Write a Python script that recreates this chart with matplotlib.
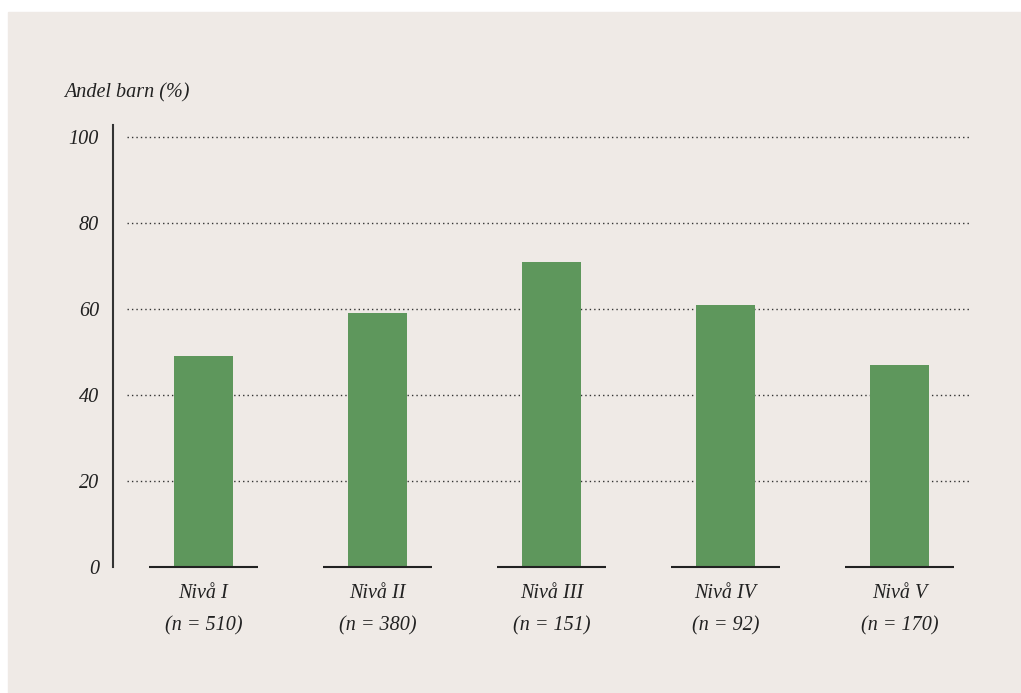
import matplotlib.pyplot as plt
import matplotlib.patches as patches

nivaer = ["Nivå I", "Nivå II", "Nivå III", "Nivå IV", "Nivå V"]
antal = [510, 380, 151, 92, 170]
andel = [49, 59, 71, 61, 47]
yticks = [0, 20, 40, 60, 80, 100]

bg = "#efeae6"
green = "#5e975c"
W, H = 1021, 693

plt.rcParams['font.family'] = ['Liberation Serif', 'DejaVu Serif']
plt.rcParams['font.style'] = 'italic'

fig = plt.figure(figsize=(W / 100, H / 100), dpi=100)
fig.patch.set_facecolor("white")
# beige panel behind the chart
fig.patches.append(patches.Rectangle((8 / W, 0), 1 - 8 / W, 1 - 12 / H,
                                     transform=fig.transFigure, color=bg, zorder=-10))

ax = fig.add_axes([113 / W, (H - 567) / H, (975 - 113) / W, (567 - 125) / H])
ax.set_facecolor("none")
ax.set_zorder(5)

x = list(range(len(nivaer)))
ymax = 102.8
ax.set_xlim(-0.52, 4.435)
ax.set_ylim(0, ymax)

# dotted grid
for t in yticks[1:]:
    ax.plot([-0.44, 4.405], [t, t], color="#333333", lw=1.0, ls=(0, (1, 2.2)), zorder=1)

ax.bar(x, andel, width=0.339, color=green, zorder=2)

# short baselines under each bar
for xi in x:
    ax.plot([xi - 0.313, xi + 0.313], [0, 0], color="#222222", lw=1.5,
            solid_capstyle="butt", zorder=3, clip_on=False)

for s in ["top", "right", "bottom"]:
    ax.spines[s].set_visible(False)
ax.spines["left"].set_color("#333333")
ax.spines["left"].set_linewidth(1.5)

ax.set_yticks(yticks)
ax.set_yticklabels([str(t) for t in yticks], fontsize=14.5, color="#222222")
ax.tick_params(axis="y", length=0, pad=10)
ax.set_xticks([])

for xi, n, a in zip(x, nivaer, antal):
    ax.annotate(n, (xi, 0), xytext=(0, -26), textcoords="offset pixels",
                ha="center", va="center", fontsize=14.5, color="#222222")
    ax.annotate("(n = %d)" % a, (xi, 0), xytext=(0, -59), textcoords="offset pixels",
                ha="center", va="center", fontsize=14.5, color="#222222")

fig.text(64 / W, 1 - 93 / H, "Andel barn (%)", ha="left", va="center",
         fontsize=14.5, color="#222222")

fig.savefig("out.png", dpi=100, facecolor=fig.get_facecolor())
